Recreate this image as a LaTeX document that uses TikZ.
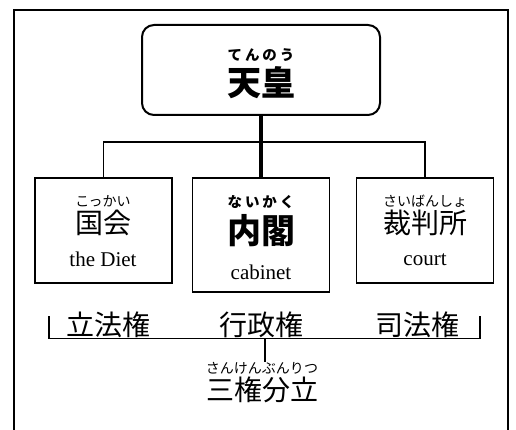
\documentclass[tikz,border=0pt]{standalone}
\usepackage{fontspec}
\setmainfont{Liberation Serif}
\newfontfamily\jp{Noto Sans CJK JP}
\newfontfamily\jpwide[LetterSpace=20]{Noto Sans CJK JP}
\usetikzlibrary{positioning}
\tikzstyle{organ} = [rectangle, draw=black, line width=1.4pt, minimum width=137pt,
minimum height=105pt, inner sep=0pt]
\tikzstyle{emperor} = [organ, rounded corners=12pt, line width=2pt,
minimum width=238pt, minimum height=90pt]
\tikzstyle{furigana} = [font=\jp\fontsize{14}{14}\selectfont, inner sep=0pt]
\tikzstyle{boldfurigana} = [font=\jpwide\bfseries\fontsize{14.5}{14.5}\selectfont, inner sep=0pt]
\tikzstyle{kanji} = [font=\jp\fontsize{28}{28}\selectfont, inner sep=0pt]
\tikzstyle{boldkanji} = [font=\jp\bfseries\fontsize{34}{34}\selectfont, inner sep=0pt]
\tikzstyle{english} = [font=\fontsize{21}{21}\selectfont, inner sep=0pt]
\tikzstyle{link} = [line width=1.2pt]

\begin{document}
\begin{tikzpicture}[x=1pt, y=-1pt]
\useasboundingbox (0,0) rectangle (516,430);
\draw[line width=1.5pt] (14,431) -- (14,10) -- (508,10) -- (508,431); % frame

\node[emperor] (tenno) at (261,70) {};
\node[boldfurigana] (tenno-r) at (261,55) {てんのう};
\node[boldkanji] (tenno-k) at (261,83) {天皇};

\node[organ] (kokkai) at (103.5,230.5) {};
\node[furigana] (kokkai-r) at (103,201) {こっかい};
\node[kanji] (kokkai-k) at (103,222.5) {国会};
\node[english] (kokkai-e) at (103,259.5) {the Diet};

\node[organ, minimum height=114pt] (naikaku) at (261,235) {};
\node[boldfurigana] (naikaku-r) at (261,202.5) {ないかく};
\node[boldkanji] (naikaku-k) at (261,231) {内閣};
\node[english] (naikaku-e) at (261,272.5) {cabinet};

\node[organ] (saibansho) at (425,230.5) {};
\node[furigana] (saibansho-r) at (425,201) {さいばんしょ};
\node[kanji] (saibansho-k) at (425,222.5) {裁判所};
\node[english] (saibansho-e) at (425,259.5) {court};

\draw[line width=4.5pt] (tenno) -- (naikaku);
\coordinate (fork) at (262,142);
\draw[link] (kokkai.north) |- (fork) -| (saibansho.north);

\node[kanji] (rippo) at (108,325) {立法権};
\node[kanji] (gyosei) at (261,325) {行政権};
\node[kanji] (shiho) at (417,325) {司法権};

\coordinate (brace-l) at (49,316);
\coordinate (brace-r) at (480,316);
\coordinate (brace-m) at (265,338.5);
\draw[link] (brace-l) |- (brace-m) -| (brace-r);

\node[furigana] (sanken-r) at (262,368) {さんけんぶんりつ};
\node[kanji] (sanken-k) at (262,390) {三権分立};
\draw[link] (brace-m) -- (brace-m |- sanken-r.north);
\end{tikzpicture}
\end{document}
